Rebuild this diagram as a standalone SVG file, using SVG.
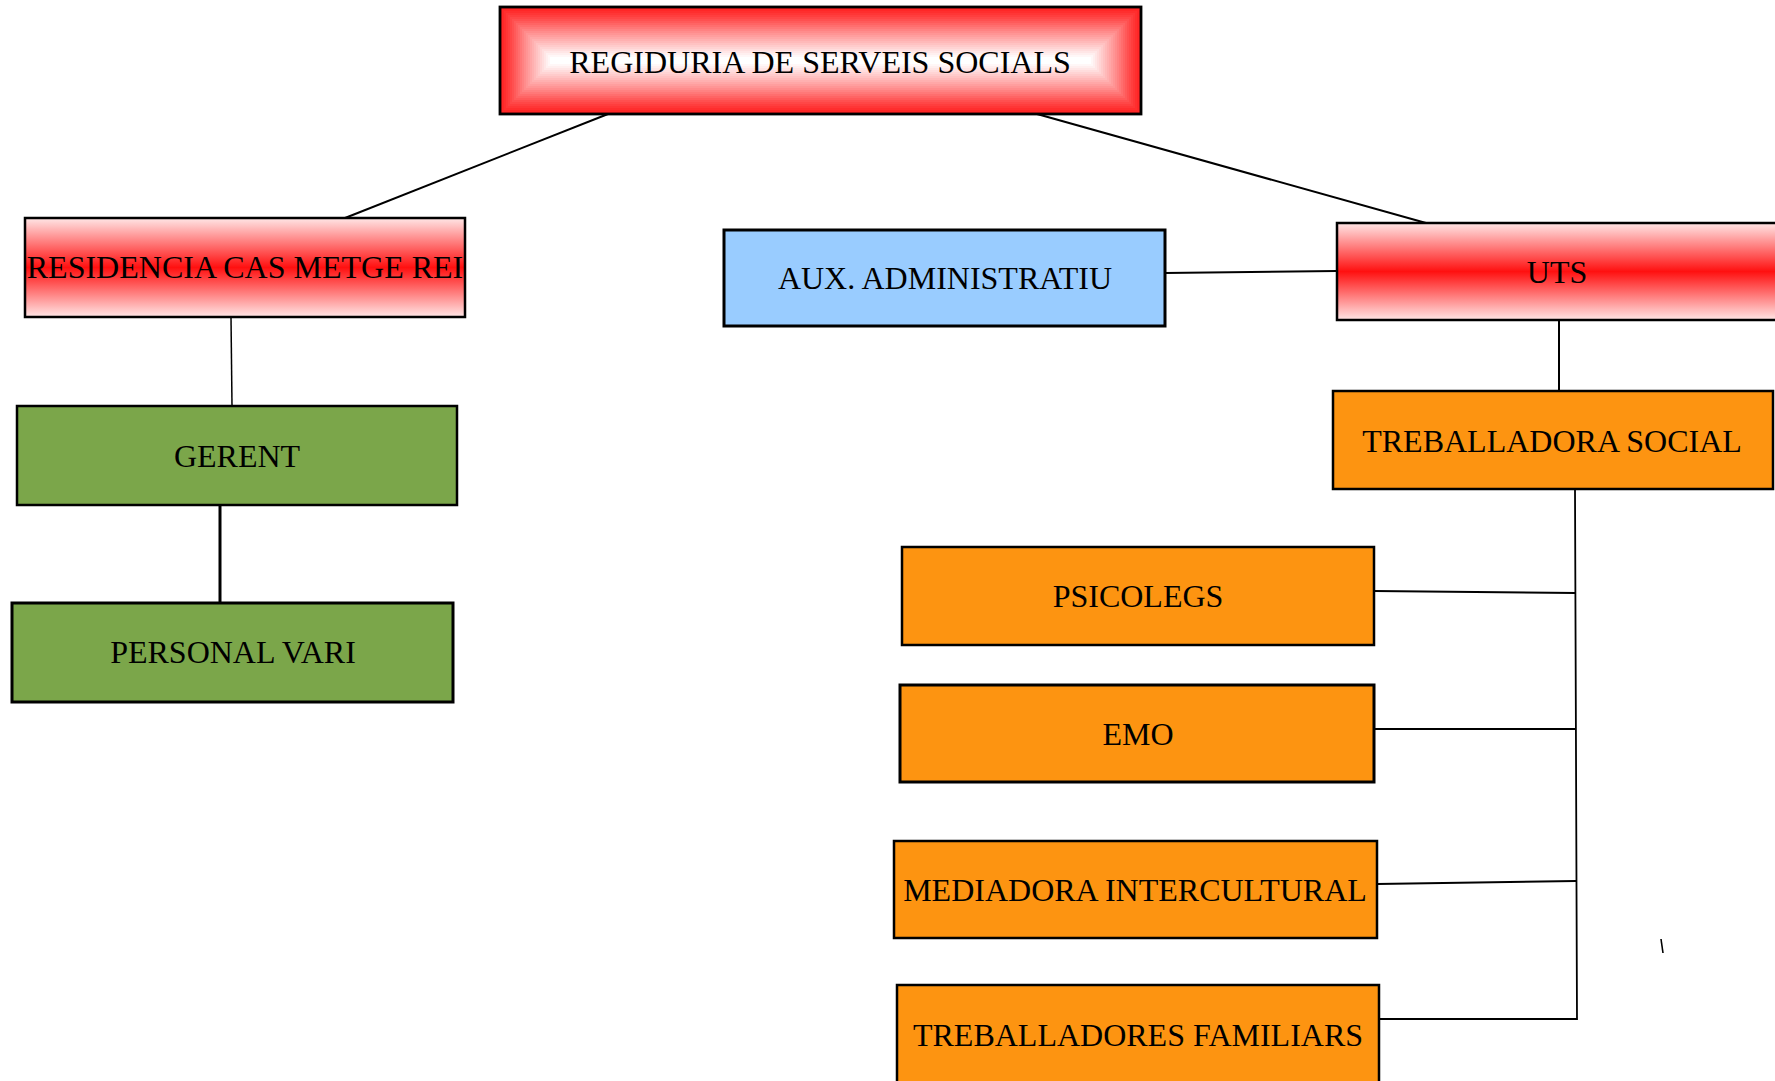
<svg xmlns="http://www.w3.org/2000/svg" width="1775" height="1081" viewBox="0 0 1775 1081">
<defs>
<style>
.box{stroke:#000;stroke-width:2.5}
.lbl{font-family:"Liberation Serif","Times New Roman",serif;font-size:32px;fill:#000;text-anchor:middle}
.green{fill:#7ba64a}
.orange{fill:#fd9411}
.blue{fill:#99ccff}
.ln{stroke:#000;fill:none;stroke-width:2}
</style>
<linearGradient id="vred" x1="0" y1="0" x2="0" y2="1">
<stop offset="0" stop-color="#ffe6e6"/>
<stop offset="0.5" stop-color="#ff1010"/>
<stop offset="1" stop-color="#ffe6e6"/>
</linearGradient>
</defs>
<rect width="1775" height="1081" fill="#fff"/>

<g id="connectors">
<line class="ln" x1="608" y1="114" x2="345" y2="218"/>
<line class="ln" x1="1037" y1="114" x2="1426" y2="223"/>
<line class="ln" x1="231" y1="317" x2="232" y2="406" style="stroke-width:1.5"/>
<line class="ln" x1="220" y1="505" x2="220" y2="603" style="stroke-width:3"/>
<line class="ln" x1="1165" y1="273" x2="1337" y2="271"/>
<line class="ln" x1="1559" y1="320" x2="1559" y2="391"/>
<polyline class="ln" points="1575,489 1577,1019 1379,1019" style="stroke-width:1.8"/>
<line class="ln" x1="1374" y1="591" x2="1576" y2="593"/>
<line class="ln" x1="1374" y1="729" x2="1576" y2="729"/>
<line class="ln" x1="1377" y1="884" x2="1576" y2="881"/>
<line class="ln" x1="1661" y1="939" x2="1663" y2="953" style="stroke-width:1.6"/>
</g>

<g id="regiduria">
<rect x="500" y="7" width="641" height="107" fill="#ff2020"/>
<rect x="502" y="9" width="637" height="103" fill="#ff2727"/>
<rect x="504" y="11" width="633" height="99" fill="#ff2e2e"/>
<rect x="506" y="13" width="629" height="95" fill="#ff3636"/>
<rect x="508" y="15" width="625" height="91" fill="#ff3e3e"/>
<rect x="510" y="17" width="621" height="87" fill="#ff4747"/>
<rect x="512" y="19" width="617" height="83" fill="#ff5050"/>
<rect x="514" y="21" width="613" height="79" fill="#ff5a5a"/>
<rect x="516" y="23" width="609" height="75" fill="#ff6464"/>
<rect x="518" y="25" width="605" height="71" fill="#ff6e6e"/>
<rect x="520" y="27" width="601" height="67" fill="#ff7878"/>
<rect x="522" y="29" width="597" height="63" fill="#ff8282"/>
<rect x="524" y="31" width="593" height="59" fill="#ff8c8c"/>
<rect x="526" y="33" width="589" height="55" fill="#ff9595"/>
<rect x="528" y="35" width="585" height="51" fill="#ff9e9e"/>
<rect x="530" y="37" width="581" height="47" fill="#ffa7a7"/>
<rect x="532" y="39" width="577" height="43" fill="#ffb0b0"/>
<rect x="534" y="41" width="573" height="39" fill="#ffb9b9"/>
<rect x="536" y="43" width="569" height="35" fill="#ffc2c2"/>
<rect x="538" y="45" width="565" height="31" fill="#ffcbcb"/>
<rect x="540" y="47" width="561" height="27" fill="#ffd4d4"/>
<rect x="542" y="49" width="557" height="23" fill="#ffdddd"/>
<rect x="544" y="51" width="553" height="19" fill="#ffe6e6"/>
<rect x="546" y="53" width="549" height="15" fill="#ffefef"/>
<rect x="548" y="55" width="545" height="11" fill="#fff7f7"/>
<rect x="550" y="57" width="541" height="7" fill="#ffffff"/>
<rect x="500" y="7" width="641" height="107" fill="none" stroke="#000" stroke-width="2.8"/>
<text class="lbl" x="820" y="73">REGIDURIA DE SERVEIS SOCIALS</text>
</g>

<g id="residencia">
<rect class="box" x="25" y="218" width="440" height="99" fill="url(#vred)"/>
<text class="lbl" x="245" y="278">RESIDENCIA CAS METGE REI</text>
</g>

<g id="gerent">
<rect class="box green" x="17" y="406" width="440" height="99"/>
<text class="lbl" x="237" y="467">GERENT</text>
</g>

<g id="personal-vari">
<rect class="box green" x="12" y="603" width="441" height="99" style="stroke-width:3"/>
<text class="lbl" x="233" y="663">PERSONAL VARI</text>
</g>

<g id="aux-administratiu">
<rect class="box blue" x="724" y="230" width="441" height="96" style="stroke-width:3"/>
<text class="lbl" x="945" y="289">AUX. ADMINISTRATIU</text>
</g>

<g id="uts">
<rect class="box" x="1337" y="223" width="445" height="97" fill="url(#vred)"/>
<text class="lbl" x="1557" y="283">UTS</text>
</g>

<g id="treballadora-social">
<rect class="box orange" x="1333" y="391" width="440" height="98"/>
<text class="lbl" x="1552" y="452">TREBALLADORA SOCIAL</text>
</g>

<g id="psicolegs">
<rect class="box orange" x="902" y="547" width="472" height="98"/>
<text class="lbl" x="1138" y="607">PSICOLEGS</text>
</g>

<g id="emo">
<rect class="box orange" x="900" y="685" width="474" height="97" style="stroke-width:3"/>
<text class="lbl" x="1138" y="745">EMO</text>
</g>

<g id="mediadora">
<rect class="box orange" x="894" y="841" width="483" height="97"/>
<text class="lbl" x="1135" y="901">MEDIADORA INTERCULTURAL</text>
</g>

<g id="treballadores-familiars">
<rect class="box orange" x="897" y="985" width="482" height="110"/>
<text class="lbl" x="1138" y="1046">TREBALLADORES FAMILIARS</text>
</g>
</svg>
